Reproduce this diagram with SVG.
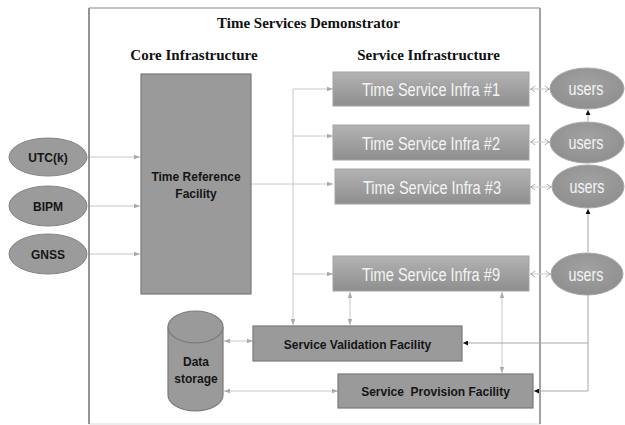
<svg xmlns="http://www.w3.org/2000/svg" width="625" height="425" viewBox="0 0 625 425">
<defs>
<linearGradient id="tsi" x1="0" y1="0" x2="0" y2="1">
<stop offset="0" stop-color="#b3b3b3"/>
<stop offset="1" stop-color="#8e8e8e"/>
</linearGradient>
<radialGradient id="usr" cx="0.5" cy="0.4" r="0.6">
<stop offset="0" stop-color="#a2a2a2"/>
<stop offset="1" stop-color="#8f8f8f"/>
</radialGradient>
<marker id="ag" viewBox="0 0 8 8" refX="8" refY="4" markerWidth="6" markerHeight="6" orient="auto-start-reverse" markerUnits="userSpaceOnUse">
<path d="M0,1 L8,4 L0,7 z" fill="#aaa"/>
</marker>
<marker id="ao" viewBox="0 0 8 10" refX="8" refY="5" markerWidth="6" markerHeight="8" orient="auto-start-reverse" markerUnits="userSpaceOnUse">
<path d="M1,1 L7,5 L1,9" fill="none" stroke="#999" stroke-width="1"/>
</marker>
<marker id="ab" viewBox="0 0 8 8" refX="8" refY="4" markerWidth="5" markerHeight="5" orient="auto-start-reverse" markerUnits="userSpaceOnUse">
<path d="M0,0 L8,4 L0,8 z" fill="#111"/>
</marker>
</defs>
<style>
.ttl{font-family:"Liberation Serif","Times New Roman",serif;font-weight:bold;font-size:15px;fill:#111;text-anchor:middle}
.lbl{font-family:"Liberation Sans",Arial,sans-serif;font-weight:bold;font-size:12px;fill:#151515;text-anchor:middle}
.wl{font-family:"Liberation Sans",Arial,sans-serif;font-size:18px;fill:#f4f4f4;text-anchor:middle}
.wu{font-family:"Liberation Sans",Arial,sans-serif;font-size:19px;fill:#f4f4f4;text-anchor:middle}
.box{fill:#9a9a9a;stroke:#7a7a7a;stroke-width:1.2}
.tsi{fill:url(#tsi);stroke:#a4a4a4;stroke-width:1}
.src{fill:#9b9b9b;stroke:#858585;stroke-width:1}
.usr{fill:url(#usr);stroke:#a8a8a8;stroke-width:1}
.ln{fill:none;stroke:#c8c8c8;stroke-width:1}
.lnd{fill:none;stroke:#a8a8a8;stroke-width:1}
</style>
<rect width="625" height="425" fill="#fff"/>
<g id="frame">
<rect x="89" y="8" width="451" height="416" fill="#fff" stroke="#dcdcdc" stroke-width="1"/>
<line x1="89" y1="8" x2="89" y2="424" stroke="#8a8a8a" stroke-width="1.8"/>
<line x1="540" y1="8" x2="540" y2="424" stroke="#8a8a8a" stroke-width="1.5"/>
<line x1="89" y1="8" x2="540" y2="8" stroke="#9a9a9a" stroke-width="1.2"/>
<text class="ttl" x="308.5" y="28">Time Services Demonstrator</text>
<text class="ttl" x="194" y="60">Core Infrastructure</text>
<text class="ttl" x="428.5" y="60">Service Infrastructure</text>
</g>
<g id="connectors">
<path class="ln" d="M90,157 H140" marker-end="url(#ag)"/>
<path class="ln" d="M90,206 H140" marker-end="url(#ag)"/>
<path class="ln" d="M90,254 H140" marker-end="url(#ag)"/>
<path class="ln" d="M251,184 H333" marker-end="url(#ag)"/>
<path class="ln" d="M293,89 V325" marker-end="url(#ag)"/>
<path class="ln" d="M293,89 H333" marker-end="url(#ag)"/>
<path class="ln" d="M293,136 H333" marker-end="url(#ag)"/>
<path class="ln" d="M293,274 H333" marker-end="url(#ag)"/>
<path class="ln" d="M530,89 H550" marker-start="url(#ao)" marker-end="url(#ao)"/>
<path class="ln" d="M530,142 H550" marker-start="url(#ao)" marker-end="url(#ao)"/>
<path class="ln" d="M530,187 H552" marker-start="url(#ao)" marker-end="url(#ao)"/>
<path class="ln" d="M530,274 H551" marker-start="url(#ao)" marker-end="url(#ao)"/>
<path class="ln" d="M350,292 V325" marker-start="url(#ag)" marker-end="url(#ag)"/>
<path class="ln" d="M502,292 V373" marker-start="url(#ag)" marker-end="url(#ag)"/>
<path class="ln" d="M224,341 H253" marker-start="url(#ag)" marker-end="url(#ag)"/>
<path class="ln" d="M224,391 H338" marker-start="url(#ag)" marker-end="url(#ag)"/>
<path class="lnd" d="M588,121 V110" marker-end="url(#ab)"/>
<path class="lnd" d="M588,252 V209" marker-end="url(#ab)"/>
<path class="lnd" d="M588,295 V343 H463" marker-end="url(#ab)"/>
<path class="lnd" d="M588,343 V391 H534" marker-end="url(#ab)"/>
</g>
<g id="utck"><ellipse class="src" cx="48" cy="157" rx="39" ry="19"/><text class="lbl" x="48" y="161.5">UTC(k)</text></g>
<g id="bipm"><ellipse class="src" cx="48" cy="206" rx="39" ry="20"/><text class="lbl" x="48" y="210.5">BIPM</text></g>
<g id="gnss"><ellipse class="src" cx="48" cy="254" rx="39" ry="20"/><text class="lbl" x="48" y="258.5">GNSS</text></g>
<g id="trf"><rect class="box" x="141" y="74" width="110" height="220"/><text class="lbl" x="196" y="181">Time Reference</text><text class="lbl" x="196" y="198">Facility</text></g>
<g id="tsi1"><rect class="tsi" x="333" y="72" width="196" height="34"/><text class="wl" x="431" y="96" textLength="138" lengthAdjust="spacingAndGlyphs">Time Service Infra #1</text></g>
<g id="tsi2"><rect class="tsi" x="333" y="125" width="196" height="35"/><text class="wl" x="431" y="149.5" textLength="138" lengthAdjust="spacingAndGlyphs">Time Service Infra #2</text></g>
<g id="tsi3"><rect class="tsi" x="335" y="169" width="195" height="35"/><text class="wl" x="432" y="193.5" textLength="138" lengthAdjust="spacingAndGlyphs">Time Service Infra #3</text></g>
<g id="tsi9"><rect class="tsi" x="333" y="256" width="196" height="35"/><text class="wl" x="431" y="280.5" textLength="138" lengthAdjust="spacingAndGlyphs">Time Service Infra #9</text></g>
<g id="users1"><ellipse class="usr" cx="587" cy="88.5" rx="37" ry="20.5"/><text class="wu" x="586" y="95" textLength="35" lengthAdjust="spacingAndGlyphs">users</text></g>
<g id="users2"><ellipse class="usr" cx="587" cy="142.5" rx="37" ry="20.5"/><text class="wu" x="586" y="149" textLength="35" lengthAdjust="spacingAndGlyphs">users</text></g>
<g id="users3"><ellipse class="usr" cx="588" cy="186.5" rx="36" ry="21.5"/><text class="wu" x="587" y="193" textLength="35" lengthAdjust="spacingAndGlyphs">users</text></g>
<g id="users9"><ellipse class="usr" cx="587" cy="274" rx="36" ry="21"/><text class="wu" x="586" y="280.5" textLength="35" lengthAdjust="spacingAndGlyphs">users</text></g>
<g id="svf"><rect class="box" x="253" y="326" width="209" height="35"/><text class="lbl" x="357.5" y="348.5">Service Validation Facility</text></g>
<g id="spf"><rect class="box" x="338" y="374" width="195" height="34"/><text class="lbl" x="435.5" y="395.5" xml:space="preserve">Service  Provision Facility</text></g>
<g id="datastorage">
<path class="box" d="M168,327 V395 A27.5,16 0 0 0 223,395 V327"/>
<ellipse class="box" cx="195.5" cy="327" rx="27.5" ry="16"/>
<text class="lbl" x="196" y="366">Data</text>
<text class="lbl" x="196" y="383">storage</text>
</g>
</svg>
